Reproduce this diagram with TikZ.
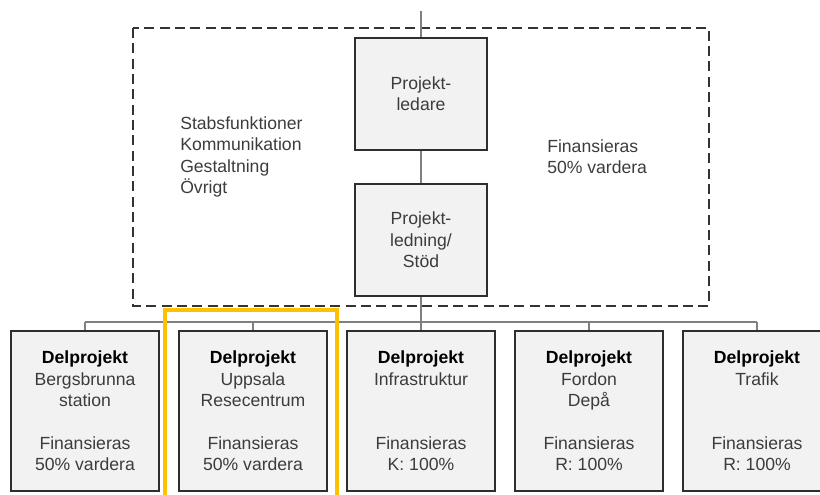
\documentclass[tikz,border=0pt]{standalone}
\usepackage{fontspec}
\setmainfont{Liberation Sans}
\definecolor{boxfill}{HTML}{F2F2F2}
\definecolor{boxline}{HTML}{2E2E2E}
\definecolor{linegray}{HTML}{808080}
\definecolor{txtgray}{HTML}{3C3C3C}
\definecolor{dashline}{HTML}{333333}
\definecolor{markyellow}{HTML}{FFC000}
\tikzset{
	delbox/.style={draw=boxline,fill=boxfill,line width=1.5pt,minimum width=111pt,minimum height=120pt,
		inner sep=0pt,align=center,text=txtgray,font=\fontsize{13.2}{16}\selectfont},
	leadbox/.style={delbox,minimum width=99.3pt,minimum height=84.5pt},
	conn/.style={draw=linegray,line width=1pt},
	plaintext/.style={align=left,inner sep=0pt,text=txtgray,font=\fontsize{13.2}{16}\selectfont}
}
\begin{document}
\begin{tikzpicture}[x=0.75pt,y=-0.75pt]
		\useasboundingbox (0,0) rectangle (820,495);
		\draw[dashline,dashed,line width=1.5pt,dash pattern=on 7.5pt off 4pt] (133,28) rectangle (709,306);
		%project management
		\node[leadbox] (ledare) at (421,94) {Projekt-\\ledare};
		\node[leadbox] (ledning) at (421,240) {Projekt-\\ledning/\\Stöd};
		\node[plaintext,anchor=west] (stab) at (180,157) {Stabsfunktioner\\Kommunikation\\Gestaltning\\Övrigt};
		\node[plaintext,anchor=west] (finstab) at (547,157) {Finansieras\\50\% vardera};
		\coordinate (top) at (421,11);
		\coordinate (bus) at (421,322);
		\draw[conn] (top) -- (ledare.north);
		\draw[conn] (ledare) -- (ledning);
		\draw[conn] (ledning) -- (bus);
		%subprojects
		\foreach \i/\name/\fin in {1/{Bergsbrunna\\station}/{50\% vardera},2/{Uppsala\\Resecentrum}/{50\% vardera},
			3/{Infrastruktur\\~}/{K: 100\%},4/{Fordon\\Depå}/{R: 100\%},5/{Trafik\\~}/{R: 100\%}}
		{
		\node[delbox] (del\i) at ({85+168*(\i-1)},411) {{\color{black}\bfseries Delprojekt}\\\name\\~\\Finansieras\\\fin};
		\draw[conn] (del\i.north) -- (del\i.north |- bus);
		}
		\draw[conn] (del1.north |- bus) -- (del5.north |- bus);
		\draw[markyellow,line width=3pt] (165,310) rectangle (337,510);
\end{tikzpicture}
\end{document}
